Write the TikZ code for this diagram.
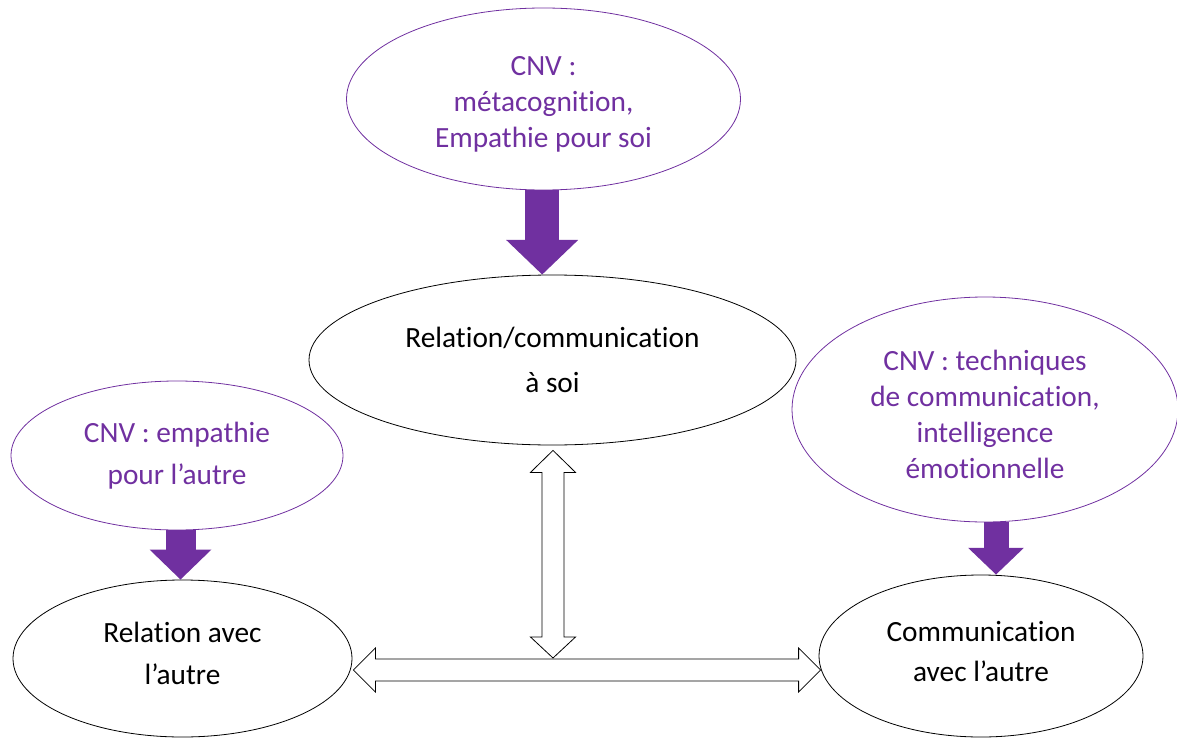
\documentclass[tikz,border=0pt]{standalone}
\usepackage{fontspec}
\setmainfont[Ligatures=NoCommon]{Carlito}
\usetikzlibrary{shapes.geometric,arrows.meta,calc}
\definecolor{cnvpurple}{RGB}{112,48,160}
\tikzset{every picture/.style={line width=0.75pt}}

\begin{document}
\begin{tikzpicture}[x=0.75pt,y=0.75pt,yscale=-1,xscale=1,
  cnvbulle/.style={ellipse,draw=cnvpurple,line width=0.6pt,text=cnvpurple,inner sep=0pt,align=center,font=\fontsize{22}{27}\selectfont},
  relbulle/.style={ellipse,draw=black,line width=0.6pt,inner sep=0pt,align=center,font=\fontsize{22}{27}\selectfont},
  fatarrow/.style n args={3}{draw=cnvpurple,line width=#1,-{Triangle[width=#2,length=#3]}},
  hollow/.style={draw=black,fill=white,line width=0.6pt,line join=miter}]
\useasboundingbox (0,0) rectangle (1177,738);

%Ellipses: CNV
\node [cnvbulle,minimum width=295.5pt,minimum height=136.5pt] (cnvsoi) at (543.5,99) {\rule{0pt}{23pt}CNV :\\ métacognition,\\ Empathie pour soi};
\node [cnvbulle,minimum width=249pt,minimum height=111.75pt] (cnvautre) at (177,455.5) {CNV : empathie\\[4.5pt] pour l’autre};
\node [cnvbulle,minimum width=289.5pt,minimum height=168.75pt] (cnvcomm) at (985,409.5) {\rule{0pt}{23pt}CNV : techniques\\ de communication,\\ intelligence\\ émotionnelle};

%Ellipses: relations
\node [relbulle,minimum width=365.25pt,minimum height=127.5pt] (soi) at (552.5,360) {Relation/communication\\[6.75pt] à soi};
\node [relbulle,minimum width=254.25pt,minimum height=117.75pt] (relautre) at (182.5,658.5) {Relation avec\\[4.5pt] l’autre\rule[-7.5pt]{0pt}{7.5pt}};
\node [relbulle,minimum width=243pt,minimum height=121.5pt] (commautre) at (981,656) {Communication\\[3pt] avec l’autre\rule[-7.5pt]{0pt}{7.5pt}};

%Purple arrows
\draw [fatarrow={25.5pt}{52.5pt}{26pt}] ([xshift=-1pt]cnvsoi.south) -- ([xshift=-1pt]cnvsoi.south |- soi.north);
\draw [fatarrow={22.5pt}{45pt}{22.5pt}] ([xshift=-1.5pt]relautre.north |- cnvautre.south) -- ([xshift=-1.5pt]relautre.north);
\draw [fatarrow={18.75pt}{40.5pt}{20pt}] ([xshift=11.25pt]commautre.north |- cnvcomm.south) -- ([xshift=11.25pt]commautre.north);

%Hollow double arrows
\coordinate (hl) at ($(relautre.east)+(1,11.5)$);
\coordinate (hr) at ($(commautre.west)+(2,14)$);
\coordinate (vt) at ($(soi.south)+(0.5,5)$);
\coordinate (vb) at ($(vt |- hl)+(0,-12)$);
\draw [hollow] (hl) -- ++(22,-22) -- ++(0,11) -- ($(hr)+(-22,-11)$) -- ++(0,-11) -- (hr) -- ++(-22,22) -- ++(0,-11) -- ($(hl)+(22,11)$) -- ++(0,11) -- cycle;
\draw [hollow] (vt) -- ++(22.5,22) -- ++(-11.5,0) -- ($(vb)+(11,-21)$) -- ++(11.5,0) -- (vb) -- ++(-22.5,-21) -- ++(11.5,0) -- ($(vt)+(-11,22)$) -- ++(-11.5,0) -- cycle;

\end{tikzpicture}
\end{document}
